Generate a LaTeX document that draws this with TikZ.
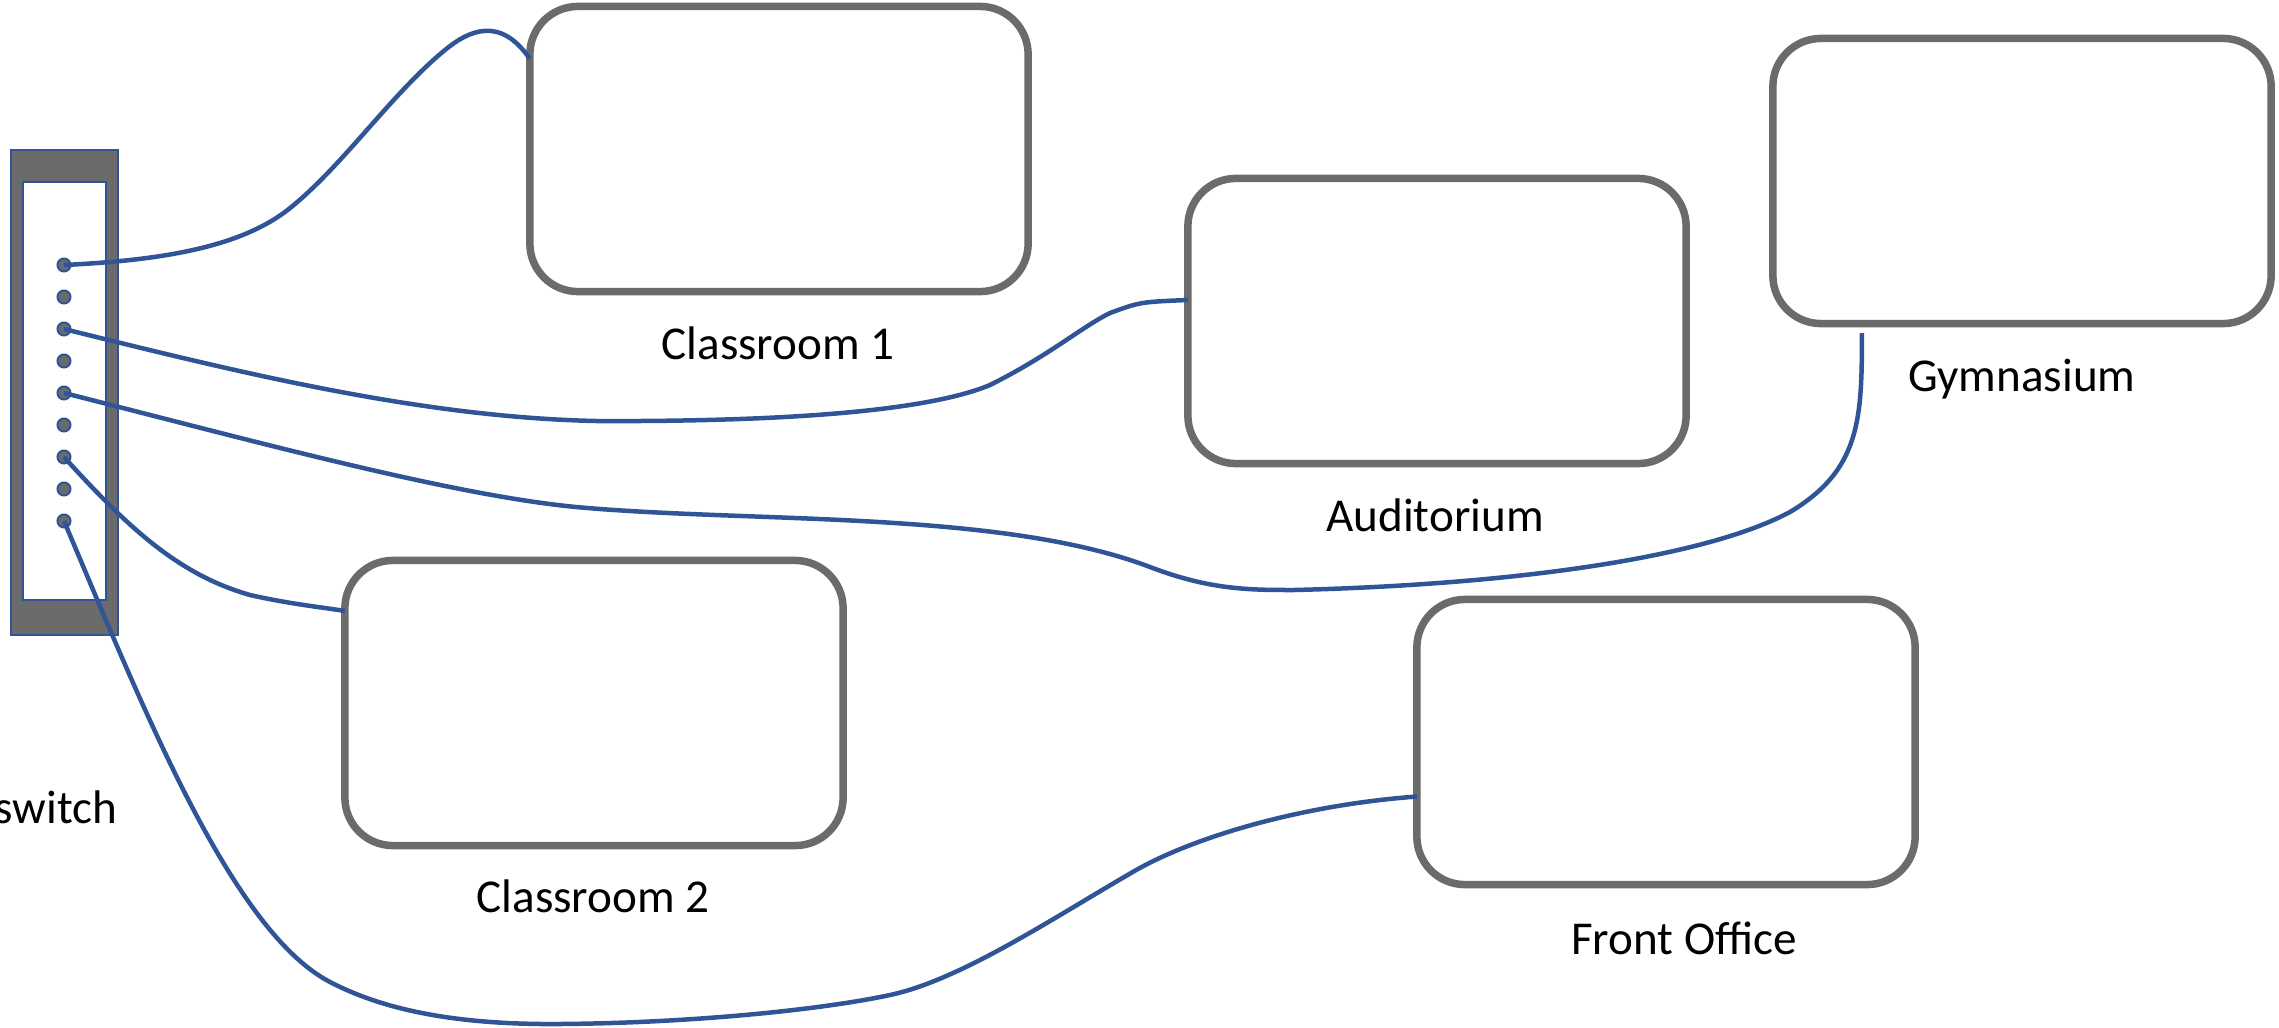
\documentclass[tikz,border=0pt]{standalone}
\usepackage{fontspec}
\setmainfont{Carlito}
\definecolor{wirec}{HTML}{2F5597}
\definecolor{boxgray}{HTML}{6B6B6B}
\begin{document}
\begin{tikzpicture}[x=0.01cm,y=-0.01cm,
  room/.style={draw=boxgray, line width=0.075cm, rounded corners=0.48cm,
    minimum width=4.98cm, minimum height=2.85cm, inner sep=0pt, outer sep=0pt, fill=white},
  lbl/.style={anchor=base, font=\fontsize{13.4pt}{16pt}\selectfont, inner sep=0pt},
  wire/.style={draw=wirec, line width=0.045cm},
  port/.style={circle, draw=wirec, fill=boxgray, line width=0.02cm,
    minimum size=0.13cm, inner sep=0pt, outer sep=0pt},
  frame/.style={draw=wirec, line width=0.02cm, inner sep=0pt, outer sep=0pt}]
\useasboundingbox (0,0) rectangle (2279,1027);

% switch
\node[frame, fill=boxgray, minimum width=1.07cm, minimum height=4.85cm] (sw) at (64.5,392.5) {};
\node[frame, fill=white, minimum width=0.83cm, minimum height=4.18cm] (swin) at (64.5,391) {};
\foreach \i in {1,...,9} \node[port] (d\i) at (64,{265+32*(\i-1)}) {};
\node[lbl, anchor=base east] (swl) at (118,823) {switch};

% rooms
\node[room] (c1) at (779,149) {};
\node[room] (aud) at (1437,321) {};
\node[room] (gym) at (2022,181) {};
\node[room] (c2) at (594,703) {};
\node[room] (fo) at (1666,742) {};

\node[lbl] (c1l) at (778,359) {Classroom 1};
\node[lbl] (audl) at (1435,531) {Auditorium};
\node[lbl] (gyml) at (2022,391) {Gymnasium};
\node[lbl] (c2l) at (593,912) {Classroom 2};
\node[lbl] (fol) at (1684,954) {Front Office};

% wires
\draw[wire] (d1.center) .. controls (170,260) and (240,245) .. (285,212)
  .. controls (340,170) and (390,95) .. (445,50)
  .. controls (468,31) and (500,15) .. ([yshift=0.9cm]c1.west);
\draw[wire] (d3.center) .. controls (250,375) and (450,425) .. (640,421)
  .. controls (800,420) and (930,410) .. (990,385)
  .. controls (1050,355) and (1080,328) .. (1110,313)
  .. controls (1140,302) .. ([yshift=0.21cm]aud.west);
\draw[wire] (d5.center) .. controls (250,440) and (450,495) .. (576,507)
  .. controls (750,523) and (1000,510) .. (1150,567)
  .. controls (1210,590) and (1250,590) .. (1294,590)
  .. controls (1500,585) and (1700,560) .. (1790,512)
  .. controls (1860,470) and (1862,420) .. ([xshift=-1.6cm,yshift=-0.095cm]gym.south);
\draw[wire] (d7.center) .. controls (130,530) and (180,575) .. (250,595)
  .. controls (290,604) and (320,607) .. ([yshift=0.92cm]c2.west);
\draw[wire] (d9.center) .. controls (140,700) and (230,930) .. (330,982)
  .. controls (380,1008) and (450,1025) .. (560,1024)
  .. controls (690,1023) and (820,1010) .. (890,995)
  .. controls (960,980) and (1050,920) .. (1131,873)
  .. controls (1190,838) and (1300,805) .. ([yshift=-0.545cm]fo.west);
\end{tikzpicture}
\end{document}
